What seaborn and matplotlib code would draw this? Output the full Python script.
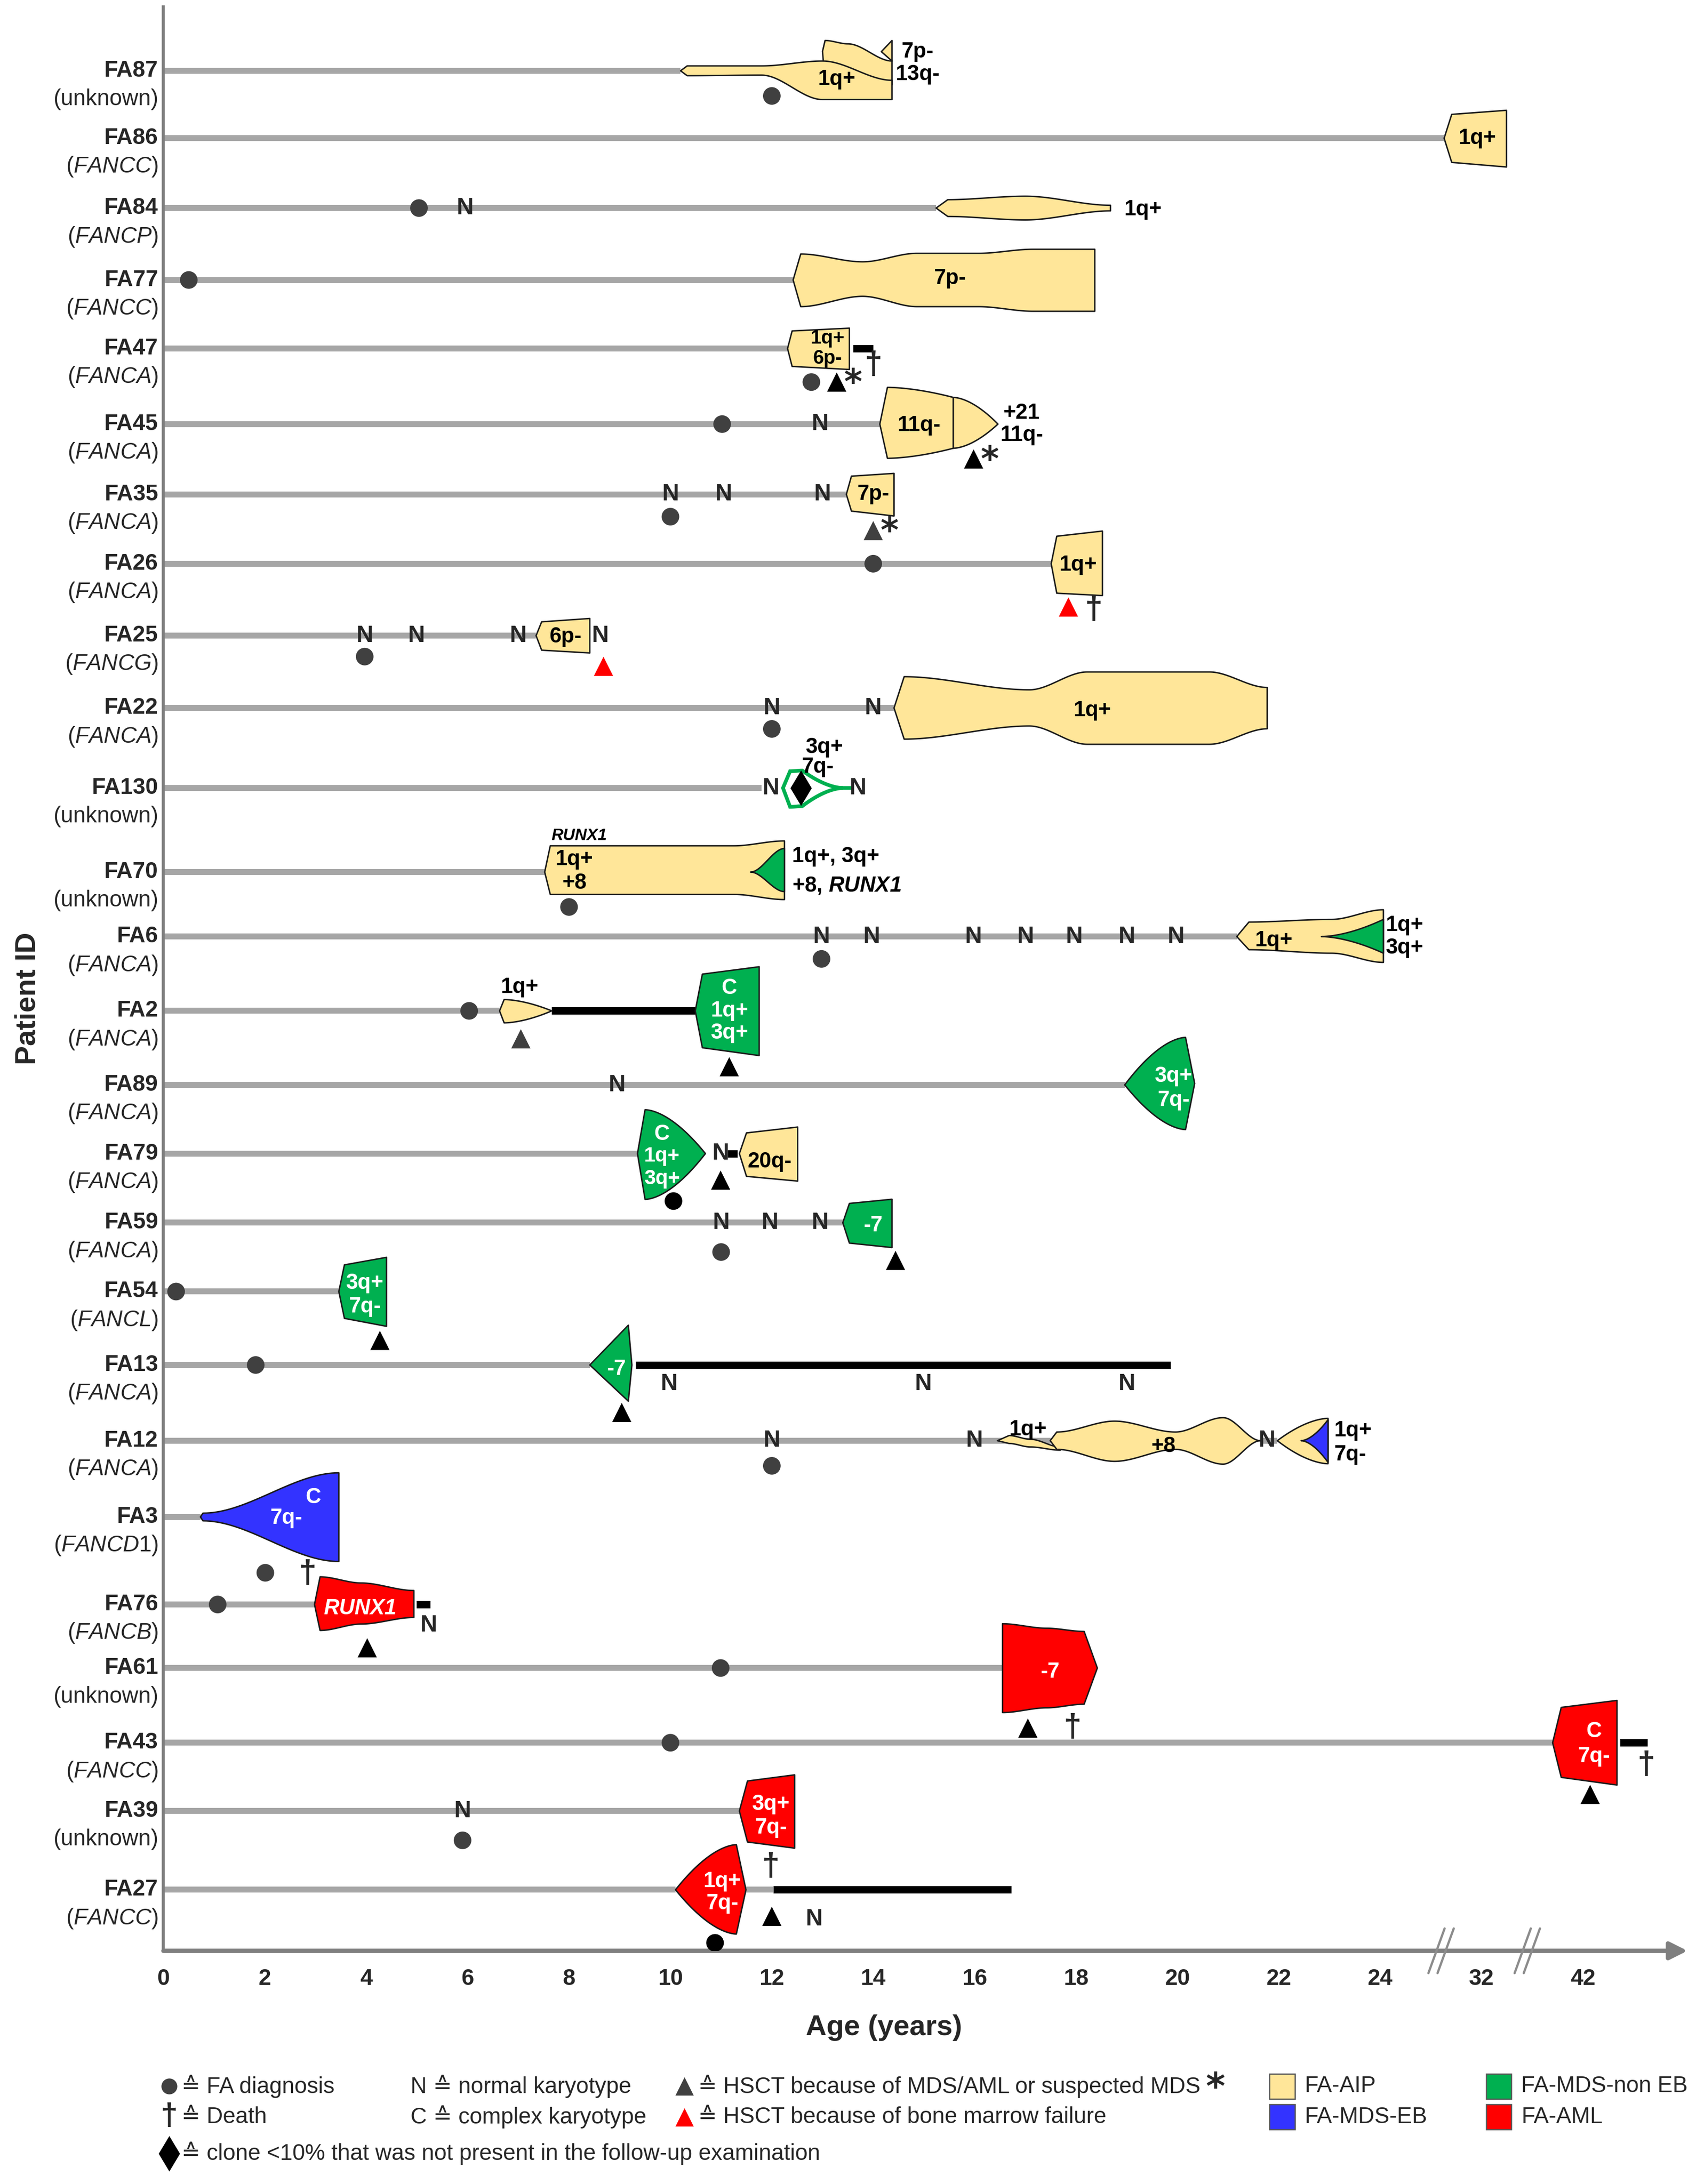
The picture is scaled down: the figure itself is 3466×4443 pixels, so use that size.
import numpy as np
import pandas as pd
import matplotlib
matplotlib.use("Agg")
import matplotlib.pyplot as plt
from matplotlib.patches import Polygon, Rectangle
import seaborn as sns

# ---------------- data ----------------
PATIENTS = ["FA87", "FA86", "FA84", "FA77", "FA47", "FA45", "FA35", "FA26", "FA25",
            "FA22", "FA130", "FA70", "FA6", "FA2", "FA89", "FA79", "FA59", "FA54",
            "FA13", "FA12", "FA3", "FA76", "FA61", "FA43", "FA39", "FA27"]
GENES = ["unknown", "FANCC", "FANCP", "FANCC", "FANCA", "FANCA", "FANCA", "FANCA", "FANCG",
         "FANCA", "unknown", "unknown", "FANCA", "FANCA", "FANCA", "FANCA", "FANCA", "FANCL",
         "FANCA", "FANCA", "FANCD1", "FANCB", "unknown", "FANCC", "unknown", "FANCC"]
# age (years) where the grey follow-up line stops
LINE_END = [10.2, 29.04, 15.24, 12.42, 12.31, 14.13, 13.47, 17.51, 7.35, 14.41, 11.8, 7.52,
            21.17, 6.63, 18.96, 9.35, 13.4, 3.46, 8.41, 17.5, 0.73, 2.98, 16.55, 39.0,
            11.36, 10.1]
EXTRA_LINES = [("FA12", 21.64, 21.97), ("FA27", 11.49, 12.03)]
POST_HSCT = [("FA47", 13.6, 14.0), ("FA2", 7.66, 10.49), ("FA79", 11.13, 11.32),
             ("FA13", 9.31, 19.86), ("FA76", 4.99, 5.26), ("FA43", 45.65, 48.35),
             ("FA27", 12.03, 16.72)]

DIAG = [("FA87", 12.0), ("FA84", 5.04), ("FA77", 0.5), ("FA47", 12.78), ("FA45", 11.02),
        ("FA35", 10.0), ("FA26", 14.0), ("FA25", 3.97), ("FA22", 12.0), ("FA70", 8.0),
        ("FA6", 12.98), ("FA2", 6.03), ("FA79", 10.06), ("FA59", 11.0), ("FA54", 0.25),
        ("FA13", 1.82), ("FA12", 12.0), ("FA3", 2.01), ("FA76", 1.07), ("FA61", 10.99),
        ("FA43", 10.0), ("FA39", 5.9), ("FA27", 10.88)]

NORMAL_KARYO = [("FA84", 5.95), ("FA45", 12.95), ("FA35", 10.0), ("FA35", 11.05), ("FA35", 13.0),
                ("FA25", 3.97), ("FA25", 4.99), ("FA25", 7.0), ("FA25", 8.62), ("FA22", 12.0),
                ("FA22", 14.0), ("FA130", 11.98), ("FA130", 13.7), ("FA6", 12.98), ("FA6", 13.97),
                ("FA6", 15.98), ("FA6", 17.0), ("FA6", 17.96), ("FA6", 19.0), ("FA6", 19.97),
                ("FA89", 8.95), ("FA79", 10.99), ("FA59", 11.0), ("FA59", 11.96), ("FA59", 12.95),
                ("FA13", 9.97), ("FA13", 14.99), ("FA13", 19.0), ("FA12", 12.0), ("FA12", 16.0),
                ("FA12", 21.77), ("FA76", 5.23), ("FA39", 5.9), ("FA27", 12.84)]

HSCT = [("FA47", 13.28), ("FA45", 15.98), ("FA35", 14.0), ("FA26", 17.85), ("FA25", 8.68),
        ("FA2", 7.05), ("FA2", 11.16), ("FA79", 10.99), ("FA59", 14.44), ("FA54", 4.27),
        ("FA13", 9.04), ("FA76", 4.02), ("FA61", 17.05), ("FA43", 42.7), ("FA27", 12.0)]
HSCT_REASON = ["suspected", "suspected", "suspected", "BMF", "BMF", "MDS", "MDS", "MDS",
               "MDS", "MDS", "MDS", "MDS", "MDS", "MDS", "MDS"]

DEATHS = [("FA47", 14.0), ("FA26", 18.35), ("FA3", 2.84), ("FA61", 17.93), ("FA43", 48.25),
          ("FA39", 11.98)]
SMALL_CLONES = [("FA130", 12.57)]

# clone shapes: ages of knots, upper/lower extent (clone size) at each knot
CLONES = [
    dict(pid="FA87", kind="AIP", ages=[13.0, 13.05, 13.5, 14.37], top=[-14, -21.7, -19.3, -7], bot=[-14, 10, 10, 10]),
    dict(pid="FA87", kind="AIP", ages=[10.2, 10.33, 11.8, 13.0, 14.37], top=[0, -3.5, -3.5, -7, 6.8], bot=[0, 3.5, 3.1, 20.6, 20.6]),
    dict(pid="FA87", kind="AIP", ages=[14.16, 14.37], top=[-13.7, -21.7], bot=[-13.7, -7], mode="lin"),
    dict(pid="FA86", kind="AIP", ages=[29.04, 29.64, 34.45], top=[0, -17.1, -20], bot=[0, 17.3, 20.6], mode="lin"),
    dict(pid="FA84", kind="AIP", ages=[15.24, 15.47, 17.0, 18.68], top=[0, -6, -8.5, -2], bot=[0, 6, 8.5, 2]),
    dict(pid="FA77", kind="AIP", ages=[12.42, 12.57, 13.79, 14.86, 16.08, 17.15, 18.37],
         top=[0, -18.6, -13, -19.1, -19.1, -22, -22], bot=[0, 19.1, 11.7, 19.1, 19.1, 22.4, 22.4]),
    dict(pid="FA47", kind="AIP", ages=[12.31, 12.4, 13.53], top=[0, -12.6, -14.6], bot=[0, 12.8, 15], mode="lin"),
    dict(pid="FA45", kind="AIP", ages=[14.13, 14.28, 15.58], top=[0, -26.3, -19.1], bot=[0, 24.5, 17.3], mode="in"),
    dict(pid="FA45", kind="AIP", ages=[15.58, 16.46], top=[-19.1, 0], bot=[17.3, 0], mode="in"),
    dict(pid="FA35", kind="AIP", ages=[13.47, 13.57, 14.41], top=[0, -13, -15], bot=[0, 12, 15.5], mode="lin"),
    dict(pid="FA26", kind="AIP", ages=[17.51, 17.62, 18.52], top=[0, -19.7, -23.4], bot=[0, 21.1, 22.8], mode="lin"),
    dict(pid="FA25", kind="AIP", ages=[7.35, 7.46, 8.41], top=[0, -9.9, -12.3], bot=[0, 10.4, 12.4], mode="lin"),
    dict(pid="FA22", kind="AIP", ages=[14.41, 14.61, 17.08, 18.22, 20.63, 21.77],
         top=[0, -22.4, -13, -25.8, -25.8, -14.7], bot=[0, 22.3, 12.9, 26, 26, 14.9]),
    dict(pid="FA130", kind="MDS", hollow=True, ages=[12.22, 12.36, 12.6, 13.4], top=[0, -12, -12.5, 0],
         bot=[0, 13.5, 13, 0], mode=["lin", "smooth", "out"]),
    dict(pid="FA70", kind="AIP", ages=[7.52, 7.63, 11.25, 12.25], top=[0, -18.8, -18.8, -22.3], bot=[0, 16, 16, 19.7]),
    dict(pid="FA70", kind="MDS", ages=[11.58, 12.25], top=[0, -16.9], bot=[0, 14]),
    dict(pid="FA6", kind="AIP", ages=[21.17, 21.41, 23.04, 24.25], top=[0, -10.4, -12.3, -19.2], bot=[0, 9.4, 11.9, 18.5]),
    dict(pid="FA6", kind="MDS", ages=[22.84, 24.25], top=[0, -12.3], bot=[0, 11.9], mode="in"),
    dict(pid="FA2", kind="AIP", ages=[6.63, 6.72, 7.66], top=[0, -8.1, 0], bot=[0, 8.6, 0], mode="in"),
    dict(pid="FA2", kind="MDS", ages=[10.49, 10.63, 11.75], top=[0, -26.3, -31.6], bot=[0, 26.4, 32], mode="lin"),
    dict(pid="FA89", kind="MDS", ages=[18.96, 20.16], top=[0, -34], bot=[0, 32], mode="out", rtip=(20.34, -1)),
    dict(pid="FA79", kind="MDS", ages=[9.35, 9.5, 10.69], top=[0, -31.4, 0], bot=[0, 32.8, 0], mode="in"),
    dict(pid="FA79", kind="AIP", ages=[11.36, 11.5, 12.51], top=[0, -14.8, -19], bot=[0, 16.3, 19.7], mode="lin"),
    dict(pid="FA59", kind="MDS", ages=[13.4, 13.53, 14.37], top=[0, -13.8, -16.8], bot=[0, 14.6, 17.8], mode="lin"),
    dict(pid="FA54", kind="MDS", ages=[3.46, 3.57, 4.40], top=[0, -19.1, -24.5], bot=[0, 19.2, 24.9], mode="lin"),
    dict(pid="FA13", kind="MDS", ages=[8.41, 9.17], top=[0, -28.5], bot=[0, 25.9], mode="lin", rtip=(9.24, 0)),
    dict(pid="FA12", kind="AIP", ages=[16.45, 16.68, 17.1, 17.69], top=[0, -3.7, -1, 4.5], bot=[0, 2, 4.5, 6.8]),
    dict(pid="FA12", kind="AIP", ages=[17.49, 17.62, 18.76, 19.96, 20.9, 21.64],
         top=[0, -6.2, -14, -6.2, -16.5, 0], bot=[0, 6.2, 14.8, 6.2, 16.8, 0]),
    dict(pid="FA12", kind="AIP", ages=[21.97, 22.97], top=[0, -16], bot=[0, 16.5], mode="out"),
    dict(pid="FA12", kind="EB", ages=[22.44, 22.97], top=[0, -15], bot=[0, 15.5], mode="in"),
    dict(pid="FA3", kind="EB", ages=[0.73, 0.78, 3.46], top=[0, -2.7, -31.6], bot=[0, 2.8, 31.9]),
    dict(pid="FA76", kind="AML", ages=[2.98, 3.09, 3.9, 4.94], top=[0, -19.8, -15.4, -10], bot=[0, 18.6, 14, 9.3]),
    dict(pid="FA61", kind="AML", ages=[16.55, 17.42, 18.16], top=[-31.7, -28.5, -26.2], bot=[31.9, 28.5, 25.9], rtip=(18.42, 0)),
    dict(pid="FA43", kind="AML", ages=[39.0, 39.85, 45.35], top=[0, -25.3, -30.3], bot=[0, 24.8, 30.3], mode="lin"),
    dict(pid="FA39", kind="AML", ages=[11.36, 11.52, 12.45], top=[0, -21.5, -25.9], bot=[0, 22.2, 26.6], mode="lin"),
    dict(pid="FA27", kind="AML", ages=[10.1, 11.3], top=[0, -32.3], bot=[0, 31.7], mode="out", rtip=(11.49, 0)),
]

# karyotype labels: patient, age, text
CLONE_TEXT = [
    ("FA87", 13.28, "1q+"), ("FA87", 14.55, "7p-"), ("FA87", 14.44, "13q-"),
    ("FA86", 31.64, "1q+"), ("FA84", 18.95, "1q+"), ("FA77", 15.51, "7p-"),
    ("FA47", 13.1, "1q+"), ("FA47", 13.1, "6p-"),
    ("FA45", 14.9, "11q-"), ("FA45", 16.56, "+21"), ("FA45", 16.5, "11q-"),
    ("FA35", 14.0, "7p-"), ("FA26", 18.04, "1q+"), ("FA25", 7.93, "6p-"), ("FA22", 18.32, "1q+"),
    ("FA130", 13.03, "3q+"), ("FA130", 12.9, "7q-"),
    ("FA70", 8.2, "RUNX1"), ("FA70", 8.1, "1q+"), ("FA70", 8.1, "+8"),
    ("FA70", 12.4, "1q+, 3q+"), ("FA70", 12.4, r"+8, $\mathbfit{RUNX1}$"),
    ("FA6", 21.9, "1q+"), ("FA6", 24.41, "1q+"), ("FA6", 24.41, "3q+"),
    ("FA2", 7.02, "1q+"), ("FA2", 11.16, "C"), ("FA2", 11.16, "1q+"), ("FA2", 11.16, "3q+"),
    ("FA89", 19.92, "3q+"), ("FA89", 19.92, "7q-"),
    ("FA79", 9.83, "C"), ("FA79", 9.83, "1q+"), ("FA79", 9.83, "3q+"), ("FA79", 11.96, "20q-"),
    ("FA59", 14.0, "-7"), ("FA54", 3.97, "3q+"), ("FA54", 3.97, "7q-"), ("FA13", 8.93, "-7"),
    ("FA12", 17.05, "1q+"), ("FA12", 19.72, "+8"), ("FA12", 23.09, "1q+"), ("FA12", 23.09, "7q-"),
    ("FA3", 2.95, "C"), ("FA3", 2.42, "7q-"), ("FA76", 3.88, "RUNX1"), ("FA61", 17.49, "-7"),
    ("FA43", 43.05, "C"), ("FA43", 43.05, "7q-"), ("FA39", 11.98, "3q+"), ("FA39", 11.98, "7q-"),
    ("FA27", 11.02, "1q+"), ("FA27", 11.02, "7q-"),
]

TICK_AGES = [0, 2, 4, 6, 8, 10, 12, 14, 16, 18, 20, 22, 24, 32, 42]

# ---------------- layout / style ----------------
# broken age axis: 24..32 and 32..42 are compressed to one tick step each
AXIS_AGES = [0, 24, 32, 42, 52]
AXIS_POS = [0, 24, 26, 28, 30]
# row centre lines, in reference units (image height = 1564)
ROW_Y = [50.7, 99, 149, 200.5, 249.6, 303.7, 354, 403.7, 455.2, 507, 564.3, 624.5, 670.7,
         723.9, 776.9, 826.1, 875.6, 924.9, 977.5, 1031.7, 1086.3, 1149, 1194.5, 1248,
         1296.9, 1353.3]
DIAG_DY = [18, 0, 0, 24, 0, 16, 0, 15, 15, 25, 16, 0, 34, 21, 0, 0, 18, 40, 0, 0, 0, 21, 38]
DIAG_SHADE = ["grey"] * 23
DIAG_SHADE[12] = "black"
DIAG_SHADE[22] = "black"
N_DY = {"FA13": 13.5, "FA76": 15, "FA27": 21}
HSCT_DY = [24, 25, 26, 31, 22, 20, 40, 19, 27, 35, 34, 31, 43, 37, 19]
HSCT_SHADE = ["black", "black", "grey", "red", "red", "grey", "black", "black", "black",
              "black", "black", "black", "black", "black", "black"]
DEATH_DY = [12, 33, 41, 43, 16, 40]
# text style per label: dy, ha, colour, size, style
TEXT_STYLE = [
    (6, "center", "k", 10.5, "n"), (-13.5, "left", "k", 10.5, "n"), (2.5, "left", "k", 10.5, "n"),
    (0, "center", "k", 10.5, "n"), (1, "left", "k", 10.5, "n"), (-1, "center", "k", 10.5, "n"),
    (-7.5, "center", "k", 9.5, "n"), (7, "center", "k", 9.5, "n"),
    (1, "center", "k", 10.5, "n"), (-8, "left", "k", 10.5, "n"), (8, "left", "k", 10.5, "n"),
    (0, "center", "k", 10.5, "n"), (1, "center", "k", 10.5, "n"), (1, "center", "k", 10.5, "n"),
    (2, "center", "k", 10.5, "n"),
    (-29, "center", "k", 10.5, "n"), (-15, "center", "k", 10.5, "n"),
    (-26, "center", "k", 8, "i"), (-9, "center", "k", 10.5, "n"), (8, "center", "k", 10.5, "n"),
    (-11, "left", "k", 10.5, "n"), (10, "left", "k", 10.5, "n"),
    (3, "center", "k", 10.5, "n"), (-8, "left", "k", 10.5, "n"), (8, "left", "k", 10.5, "n"),
    (-17, "center", "k", 10.5, "n"), (-16, "center", "w", 10.5, "n"), (0, "center", "w", 10.5, "n"),
    (16, "center", "w", 10.5, "n"),
    (-6, "center", "w", 10.5, "n"), (11, "center", "w", 10.5, "n"),
    (-14, "center", "w", 10.5, "n"), (2, "center", "w", 10, "n"), (18, "center", "w", 10, "n"),
    (6, "center", "k", 10.5, "n"),
    (2, "center", "w", 10.5, "n"), (-6, "center", "w", 10.5, "n"), (11, "center", "w", 10.5, "n"),
    (3, "center", "w", 10.5, "n"),
    (-8, "center", "k", 10.5, "n"), (4, "center", "k", 10.5, "n"), (-7, "left", "k", 10.5, "n"),
    (10, "left", "k", 10.5, "n"),
    (-14, "center", "w", 10.5, "n"), (1, "center", "w", 10.5, "n"), (3, "center", "w", 10.5, "i"),
    (3, "center", "w", 10.5, "n"),
    (-8, "center", "w", 10.5, "n"), (10, "center", "w", 10.5, "n"), (-5, "center", "w", 10.5, "n"),
    (12, "center", "w", 10.5, "n"), (-6, "center", "w", 10.5, "n"), (10, "center", "w", 10.5, "n"),
]

COLORS = {"AIP": "#FFE699", "MDS": "#00B050", "EB": "#3333FF", "AML": "#FF0000"}
LINE_GREY = "#A6A6A6"
AXIS_GREY = "#7F7F7F"
DOT_GREY = "#404040"

sns.set_theme(style="white")
FONT = ["Liberation Sans", "DejaVu Sans"]
plt.rcParams["font.family"] = FONT
plt.rcParams["mathtext.fontset"] = "custom"
plt.rcParams["mathtext.rm"] = "Liberation Sans"
plt.rcParams["mathtext.it"] = "Liberation Sans:italic"
plt.rcParams["mathtext.bf"] = "Liberation Sans:bold"
try:
    plt.rcParams["mathtext.bfit"] = "Liberation Sans:italic:bold"
except KeyError:
    pass

ROW = dict(zip(PATIENTS, ROW_Y))
W, H = 1220.0, 1564.0
X_MAX = 30.11
Y_BOT, Y_TOP = 1397.0, 5.0


def xpos(age):
    return np.interp(age, AXIS_AGES, AXIS_POS)


def ease(t, mode):
    if mode == "lin":
        return t
    if mode == "in":
        return t ** 1.7
    if mode == "out":
        return 1 - (1 - t) ** 1.7
    return t * t * (3 - 2 * t)


def clone_polygon(c):
    y0 = ROW[c["pid"]]
    xs = xpos(np.asarray(c["ages"], float))
    top = np.asarray(c["top"], float)
    bot = np.asarray(c["bot"], float)
    n = len(xs)
    mode = c.get("mode", "smooth")
    if isinstance(mode, str):
        if top[0] == bot[0] and n > 2:
            modes = ["lin"] + [mode] * (n - 2)
        else:
            modes = [mode] * (n - 1)
    else:
        modes = mode
    px, pt, pb = [xs[0]], [top[0]], [bot[0]]
    t = np.linspace(0, 1, 41)[1:]
    for i in range(n - 1):
        f = ease(t, modes[i])
        px.extend(xs[i] + (xs[i + 1] - xs[i]) * t)
        pt.extend(top[i] + (top[i + 1] - top[i]) * f)
        pb.extend(bot[i] + (bot[i + 1] - bot[i]) * f)
    px, pt, pb = np.array(px), np.array(pt), np.array(pb)
    pts = list(zip(px, y0 + pt))
    if "rtip" in c:
        pts.append((xpos(c["rtip"][0]), y0 + c["rtip"][1]))
    pts += list(zip(px[::-1], (y0 + pb)[::-1]))
    return pts


fig = plt.figure(figsize=(3466 / 300, 4443 / 300), dpi=300)
ax = fig.add_axes([117 / W, 1 - Y_BOT / H, X_MAX * 36.3 / W, (Y_BOT - Y_TOP) / H])

# grey follow-up lines
ax.hlines([ROW[p] for p in PATIENTS], 0, xpos(np.array(LINE_END)), color=LINE_GREY, lw=2.9, zorder=1)
for pid, a0, a1 in EXTRA_LINES:
    ax.hlines(ROW[pid], xpos(a0), xpos(a1), color=LINE_GREY, lw=2.9, zorder=1)
# black bars after HSCT
for pid, a0, a1 in POST_HSCT:
    ax.hlines(ROW[pid], xpos(a0), xpos(a1), color="black", lw=3.6, zorder=2, clip_on=False)

# clones
for c in CLONES:
    if c.get("hollow"):
        patch = Polygon(clone_polygon(c), closed=True, facecolor="white",
                        edgecolor=COLORS[c["kind"]], lw=1.8, zorder=3)
    else:
        patch = Polygon(clone_polygon(c), closed=True, facecolor=COLORS[c["kind"]],
                        edgecolor="#1A1A1A", lw=0.7, joinstyle="round", zorder=3)
    ax.add_patch(patch)
ax.plot(xpos(np.array([13.4, 13.58])), [ROW["FA130"]] * 2, color=COLORS["MDS"], lw=1.8, zorder=3)

# FA diagnosis dots
dots = pd.DataFrame({"x": xpos(np.array([a for _, a in DIAG])),
                     "y": [ROW[p] + d for (p, _), d in zip(DIAG, DIAG_DY)],
                     "shade": DIAG_SHADE})
sns.scatterplot(data=dots, x="x", y="y", hue="shade", palette={"grey": DOT_GREY, "black": "black"},
                s=74, marker="o", linewidth=0, legend=False, ax=ax, zorder=5)

# HSCT triangles
tri = pd.DataFrame({"x": xpos(np.array([a for _, a in HSCT])),
                    "y": [ROW[p] + d for (p, _), d in zip(HSCT, HSCT_DY)],
                    "shade": HSCT_SHADE})
sns.scatterplot(data=tri, x="x", y="y", hue="shade",
                palette={"grey": DOT_GREY, "black": "black", "red": "#FF0000"},
                s=88, marker="^", linewidth=0, legend=False, ax=ax, zorder=5)
for (pid, age), reason, d in zip(HSCT, HSCT_REASON, HSCT_DY):
    if reason == "suspected":
        ax.text(xpos(age) + 0.32, ROW[pid] + d + 1.5, "*", ha="center", va="center",
                fontsize=17, fontweight="bold", family=["DejaVu Sans"], zorder=6)

# small clone diamond
dia = pd.DataFrame({"x": xpos(np.array([a for _, a in SMALL_CLONES])),
                    "y": [ROW[p] for p, _ in SMALL_CLONES]})
sns.scatterplot(data=dia, x="x", y="y", color="black", s=150, marker="d", linewidth=0,
                legend=False, ax=ax, zorder=5)

# normal karyotype marks
for pid, age in NORMAL_KARYO:
    ax.text(xpos(age), ROW[pid] + N_DY.get(pid, 0), "N", ha="center", va="center",
            fontsize=11.5, fontweight="bold", zorder=6)

# deaths
for (pid, age), d in zip(DEATHS, DEATH_DY):
    ax.text(xpos(age), ROW[pid] + d, "\u2020", ha="center", va="center", fontsize=15.5,
            fontweight="bold", zorder=6)

# karyotype texts
for (pid, age, txt), (dy, ha, col, size, style) in zip(CLONE_TEXT, TEXT_STYLE):
    ax.text(xpos(age), ROW[pid] + dy, txt, ha=ha, va="center",
            color="white" if col == "w" else "black", fontsize=size, fontweight="bold",
            fontstyle="italic" if style == "i" else "normal", zorder=6)

# patient labels
for pid, gene in zip(PATIENTS, GENES):
    ax.text(-0.1, ROW[pid], pid, ha="right", va="center", fontsize=11, fontweight="bold")
    g = "(unknown)" if gene == "unknown" else "(" + r"$\mathit{" + gene + "}$" + ")"
    ax.text(-0.1, ROW[pid] + 20.5, g, ha="right", va="center", fontsize=11)

# axes
ax.set_xlim(0, X_MAX)
ax.set_ylim(Y_BOT, Y_TOP)
ax.set_xlabel("")
ax.set_ylabel("")
ax.set_yticks([])
ax.set_xticks(xpos(np.array(TICK_AGES, float)))
ax.set_xticklabels([str(a) for a in TICK_AGES], fontsize=11, fontweight="bold")
ax.tick_params(axis="x", length=0, pad=8.5)
for side in ["top", "right", "bottom"]:
    ax.spines[side].set_visible(False)
ax.spines["left"].set_color(AXIS_GREY)
ax.spines["left"].set_linewidth(1.5)
ax.annotate("", xy=(30.06, Y_BOT), xytext=(0, Y_BOT), xycoords="data",
            arrowprops=dict(arrowstyle="-|>", color=AXIS_GREY, lw=2.1, mutation_scale=18,
                            shrinkA=0, shrinkB=0), annotation_clip=False)
for cx in (25.2, 26.9):
    for off in (-0.09, 0.09):
        ax.plot([cx + off - 0.16, cx + off + 0.16], [Y_BOT + 16, Y_BOT - 16], color="#8C8C8C",
                lw=1.1, clip_on=False, zorder=4)

# overlay in reference units for titles and legend
lax = fig.add_axes([0, 0, 1, 1], zorder=-1)
lax.set_xlim(0, W)
lax.set_ylim(H, 0)
lax.axis("off")
lax.text(633, 1452, "Age (years)", ha="center", va="center", fontsize=14, fontweight="bold")
lax.text(20, 715, "Patient ID", ha="center", va="center", fontsize=14, fontweight="bold",
         rotation=90)

r1, r2, r3 = 1494, 1516, 1542
LFS = 11
lax.scatter([121], [r1], s=60, color=DOT_GREY, marker="o", linewidth=0)
lax.text(130, r1, "\u2259 FA diagnosis", va="center", fontsize=LFS)
lax.text(294, r1, "N \u2259 normal karyotype", va="center", fontsize=LFS)
lax.scatter([490], [r1], s=80, color=DOT_GREY, marker="^", linewidth=0)
lax.text(500, r1, "\u2259 HSCT because of MDS/AML or suspected MDS", va="center", fontsize=LFS)
lax.text(870, r1 + 2, "*", ha="center", va="center", fontsize=18, fontweight="bold",
         family=["DejaVu Sans"])
lax.text(121, r2, "\u2020", ha="center", va="center", fontsize=15, fontweight="bold")
lax.text(130, r2, "\u2259 Death", va="center", fontsize=LFS)
lax.text(294, r2, "C \u2259 complex karyotype", va="center", fontsize=LFS)
lax.scatter([490], [r2], s=80, color="#FF0000", marker="^", linewidth=0)
lax.text(500, r2, "\u2259 HSCT because of bone marrow failure", va="center", fontsize=LFS)
lax.scatter([121], [r3], s=150, color="black", marker="d", linewidth=0)
lax.text(130, r3, "\u2259 clone <10% that was not present in the follow-up examination",
         va="center", fontsize=LFS)
for (x0, y0), kind, label in [((909, 1485), "AIP", "FA-AIP"), ((1064, 1485), "MDS", "FA-MDS-non EB"),
                              ((909, 1507), "EB", "FA-MDS-EB"), ((1064, 1507), "AML", "FA-AML")]:
    lax.add_patch(Rectangle((x0, y0), 18, 18, facecolor=COLORS[kind], edgecolor="#555555", lw=0.6))
    lax.text(x0 + 25, y0 + 9, label, va="center", fontsize=LFS)

fig.savefig("out.png", dpi=300)
